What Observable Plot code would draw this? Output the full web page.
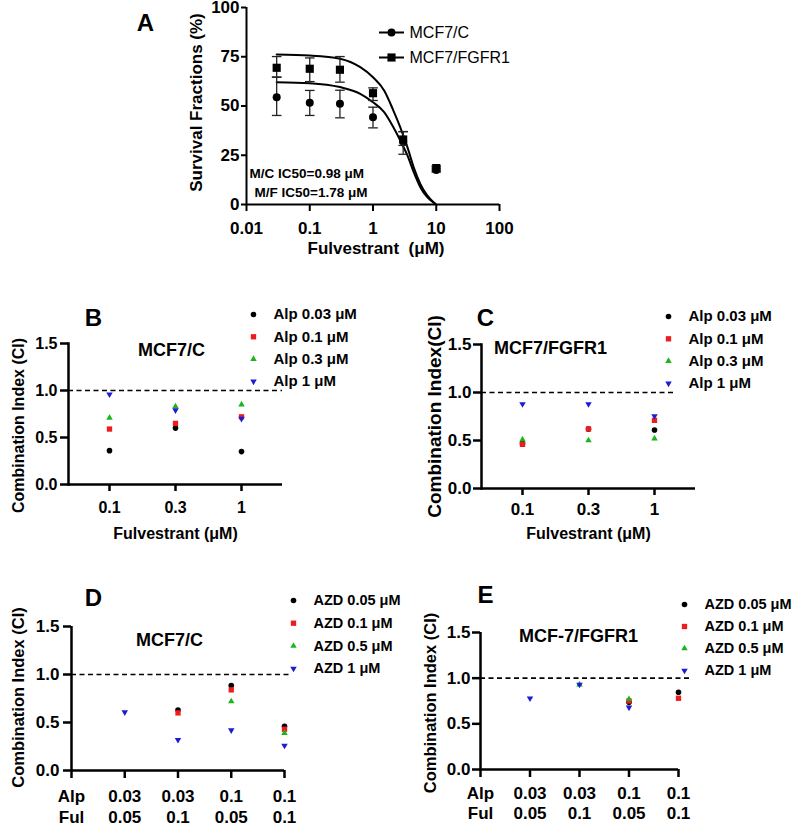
<!DOCTYPE html>
<html>
<head>
<meta charset="utf-8">
<script src="https://cdn.jsdelivr.net/npm/d3@7"></script>
<script src="https://cdn.jsdelivr.net/npm/@observablehq/plot@0.6"></script>
<style>
  body { margin: 0; background: #fff; }
  #figure { position: relative; width: 797px; height: 827px; background: #fff; overflow: hidden; }
</style>
</head>
<body>
<div id="figure"></div>
<script>
// ---------- Panel A: survival vs fulvestrant dose ----------
const fulDoses = [0.03, 0.1, 0.3, 1, 3, 10];
const mcfC_mean = [54.5, 51.6, 51.1, 44.3, 32.0, 17.5];
const mcfC_lo   = [45.2, 45.2, 44.0, 38.9, 25.5, 16.5];
const mcfC_hi   = [64.7, 57.9, 58.0, 49.4, 37.0, 18.5];
const mcfF_mean = [69.4, 68.9, 68.4, 56.5, 33.0, 18.5];
const mcfF_lo   = [64.6, 62.4, 62.1, 52.8, 30.0, 17.5];
const mcfF_hi   = [75.1, 74.4, 75.1, 59.2, 37.0, 19.5];

// fitted dose–response curves
const fitDoses = [0.03, 0.1, 0.3, 0.63, 1, 1.5, 2.1, 2.7, 3.5, 4.4, 5.6, 7.2, 9.7];
const fitC     = [62.1, 61.6, 59.6, 56.2, 51.9, 46.9, 39.2, 32.5, 24.9, 16.4, 8.8, 3.7, 0.3];
const fitF     = [76.1, 75.6, 74.0, 69.7, 64.6, 57.9, 47.7, 39.2, 29.1, 18.9, 10.5, 4.6, 0.3];

const doseTicksA = [0.01, 0.1, 1, 10, 100];
const survTicks = [0, 25, 50, 75, 100];
const cellLines = ["MCF7/C", "MCF7/FGFR1"];
const ic50Notes = ["M/C IC50=0.98 μM", "M/F IC50=1.78 μM"];

// ---------- Panels B, C: alpelisib + fulvestrant ----------
const fulDosesBC = ["0.1", "0.3", "1"];
const alpLegend = ["Alp 0.03 μM", "Alp 0.1 μM", "Alp 0.3 μM", "Alp 1 μM"];
const ciB_alp003 = [0.36, 0.60, 0.35];
const ciB_alp01  = [0.59, 0.65, 0.72];
const ciB_alp03  = [0.71, 0.83, 0.85];
const ciB_alp1   = [0.96, 0.79, 0.70];
const ciC_alp003 = [0.47, 0.62, 0.61];
const ciC_alp01  = [0.46, 0.62, 0.71];
const ciC_alp03  = [0.51, 0.50, 0.52];
const ciC_alp1   = [0.88, 0.88, 0.755];

// ---------- Panels D, E: AZD4547 + alpelisib/fulvestrant combos ----------
const comboAlp = ["0.03", "0.03", "0.1", "0.1"];
const comboFul = ["0.05", "0.1", "0.05", "0.1"];
const comboPos = [1, 2, 3, 4];
const azdLegend = ["AZD 0.05 μM", "AZD 0.1 μM", "AZD 0.5 μM", "AZD 1 μM"];
const ciD_azd005 = [null, 0.63, 0.885, 0.46];
const ciD_azd01  = [null, 0.60, 0.84, 0.43];
const ciD_azd05  = [null, null, 0.72, 0.39];
const ciD_azd1   = [0.607, 0.32, 0.42, 0.26];
const ciE_azd005 = [null, null, 0.735, 0.845];
const ciE_azd01  = [null, null, 0.75, 0.78];
const ciE_azd05  = [null, 0.93, 0.77, null];
const ciE_azd1   = [0.78, 0.93, 0.68, null];

const ciTicks = [0, 0.5, 1, 1.5];
const comboTickLabels = ["Alp\nFul", ...comboAlp.map((a, i) => a + "\n" + comboFul[i])];

// ---------- shared styling ----------
const FONT = "'Liberation Sans', Arial, Helvetica, sans-serif";
const seriesColors = ["#000000", "#ee1c1c", "#1fb41f", "#1c1cd2"];
const triangleDown = {
  draw(context, size) {
    const y = -Math.sqrt(size / (Math.sqrt(3) * 3));
    const x = Math.sqrt(3) * y;
    context.moveTo(0, -2 * y);
    context.lineTo(x, y);
    context.lineTo(-x, y);
    context.closePath();
  }
};
const seriesSymbols = ["circle", "square", "triangle", triangleDown];
const seriesRadius = [2.8, 3, 2.4, 2.4];
const capSymbol = {draw(context) { context.moveTo(-4.8, 0); context.lineTo(4.8, 0); }};
const legendLine = {draw(context) { context.moveTo(-12.5, 0); context.lineTo(12.5, 0); }};

function baseStyle() {
  return {fontFamily: FONT, fontSize: "16px", fontWeight: "bold", color: "#000", background: "transparent", overflow: "visible"};
}

// a single text label placed relative to the plot frame
function label(str, frameAnchor, dx, dy, fontSize, extra = {}) {
  return Plot.text([str], {frameAnchor, dx, dy, text: d => d, textAnchor: "middle", lineAnchor: "middle", fontSize, fontWeight: "bold", ...extra});
}

function place(chart, left, top) {
  chart.style.position = "absolute";
  chart.style.left = left + "px";
  chart.style.top = top + "px";
  document.getElementById("figure").append(chart);
}

// ---------- Panel A ----------
{
  const rowsC = fulDoses.map((d, i) => ({dose: d, mean: mcfC_mean[i], lo: mcfC_lo[i], hi: mcfC_hi[i]}));
  const rowsF = fulDoses.map((d, i) => ({dose: d, mean: mcfF_mean[i], lo: mcfF_lo[i], hi: mcfF_hi[i]}));
  const curveC = fitDoses.map((d, i) => ({dose: d, v: fitC[i]}));
  const curveF = fitDoses.map((d, i) => ({dose: d, v: fitF[i]}));
  const markerOpts = [{symbol: "circle", r: 4}, {symbol: "square", r: 4.6}];

  const marks = [
    Plot.ruleX([doseTicksA[0]], {strokeWidth: 2}),
    Plot.ruleY([0], {strokeWidth: 2}),
    Plot.axisY({ticks: survTicks, tickSize: 5, tickPadding: 2, strokeWidth: 2, fontSize: 17, label: null}),
    Plot.axisX({ticks: doseTicksA, tickFormat: d => String(d), tickSize: 7, tickPadding: 10, strokeWidth: 2, fontSize: 17, label: null}),
    Plot.line(curveF, {x: "dose", y: "v", curve: "monotone-x", strokeWidth: 2}),
    Plot.line(curveC, {x: "dose", y: "v", curve: "monotone-x", strokeWidth: 2})
  ];
  [rowsC, rowsF].forEach((rows, k) => {
    marks.push(
      Plot.ruleX(rows, {x: "dose", y1: "lo", y2: "hi", stroke: "#222", strokeWidth: 1.3}),
      Plot.dot(rows, {x: "dose", y: "lo", symbol: capSymbol, stroke: "#222", strokeWidth: 1.3}),
      Plot.dot(rows, {x: "dose", y: "hi", symbol: capSymbol, stroke: "#222", strokeWidth: 1.3}),
      Plot.dot(rows, {x: "dose", y: "mean", ...markerOpts[k], fill: "#000"})
    );
  });
  cellLines.forEach((name, k) => {
    marks.push(
      Plot.dot([name], {frameAnchor: "top-left", dx: 145, dy: 25 + 25 * k, symbol: legendLine, stroke: "#000", strokeWidth: 2}),
      Plot.dot([name], {frameAnchor: "top-left", dx: 145, dy: 25 + 25 * k, ...markerOpts[k], fill: "#000"}),
      label(name, "top-left", 163, 25 + 25 * k, 16, {textAnchor: "start", fontWeight: "normal"})
    );
  });
  ic50Notes.forEach((note, k) => {
    marks.push(label(note, "bottom-left", 3 + 5 * k, -31 + 19 * k, 13.5, {textAnchor: "start"}));
  });
  marks.push(
    label("A", "top-left", -101, 16, 24),
    label("Survival Fractions (%)", "left", -50, -3.5, 17, {rotate: -90}),
    label("Fulvestrant  (μM)", "bottom", 3, 44, 17)
  );

  place(Plot.plot({
    width: 420, height: 265,
    marginLeft: 126, marginRight: 41, marginTop: 7, marginBottom: 61,
    x: {type: "log", domain: [0.01, 100]},
    y: {domain: [0, 100]},
    style: baseStyle(),
    marks
  }), 120, 0);
}

// ---------- Combination index panels ----------
function ciPanel(cfg) {
  const marks = [
    Plot.ruleY([1], {strokeDasharray: "5,3.5", strokeWidth: 1.6, insetRight: cfg.dashInset}),
    cfg.yLine,
    Plot.ruleY([0], {strokeWidth: 2.5}),
    Plot.axisY({ticks: ciTicks, tickFormat: d3.format(".1f"), tickSize: 8, tickPadding: cfg.yPad, strokeWidth: 2.5, fontSize: cfg.tickFont, label: null}),
    Plot.axisX({strokeWidth: 2.5, fontSize: cfg.tickFont, label: null, ...cfg.xAxis})
  ];
  cfg.series.forEach((vals, i) => {
    const rows = cfg.positions.map((p, j) => ({pos: p, ci: vals[j]})).filter(d => d.ci != null);
    marks.push(Plot.dot(rows, {x: "pos", y: "ci", symbol: seriesSymbols[i], fill: seriesColors[i], r: seriesRadius[i]}));
  });
  cfg.legend.forEach((text, i) => {
    const dy = cfg.legendDy + i * cfg.legendStep;
    marks.push(
      Plot.dot([text], {frameAnchor: "top-left", dx: cfg.legendDx, dy, symbol: seriesSymbols[i], fill: seriesColors[i], r: seriesRadius[i]}),
      label(text, "top-left", cfg.legendDx + 20, dy, cfg.legendFont, {textAnchor: "start"})
    );
  });
  marks.push(
    label(cfg.letter, "top-left", cfg.letterPos[0], cfg.letterPos[1], 24),
    label(cfg.title, "top-left", cfg.titlePos[0], cfg.titlePos[1], 18),
    label(cfg.yLabel, "left", cfg.yLabelPos[0], cfg.yLabelPos[1], cfg.yLabelFont, {rotate: -90})
  );
  if (cfg.xLabel) marks.push(label(cfg.xLabel, "bottom", 0, cfg.xLabelDy, 16));
  place(Plot.plot({
    width: cfg.size[0], height: cfg.size[1],
    marginLeft: cfg.margins[0], marginRight: cfg.margins[1], marginTop: cfg.margins[2], marginBottom: cfg.margins[3],
    x: cfg.x,
    y: {domain: [0, 1.5]},
    style: baseStyle(),
    marks
  }), cfg.at[0], cfg.at[1]);
}

// B: MCF7/C, alpelisib + fulvestrant
ciPanel({
  at: [0, 295], size: [400, 250], margins: [68, 118, 48, 61],
  x: {type: "point", domain: fulDosesBC, padding: 0.61},
  xAxis: {tickSize: 7, tickPadding: 10},
  yLine: Plot.frame({anchor: "left", strokeWidth: 2.5}),
  yPad: 3, tickFont: 16,
  positions: fulDosesBC,
  series: [ciB_alp003, ciB_alp01, ciB_alp03, ciB_alp1],
  legend: alpLegend, legendDx: 185, legendDy: -29, legendStep: 22.3, legendFont: 15,
  letter: "B", letterPos: [25, -25],
  title: "MCF7/C", titlePos: [103, 7],
  yLabel: "Combination Index (CI)", yLabelPos: [-50, 11.5], yLabelFont: 16,
  xLabel: "Fulvestrant (μM)", xLabelDy: 49,
  dashInset: 0
});

// C: MCF7/FGFR1, alpelisib + fulvestrant
ciPanel({
  at: [400, 295], size: [397, 250], margins: [81, 102, 49, 57],
  x: {type: "point", domain: fulDosesBC, padding: 0.61},
  xAxis: {tickSize: 7, tickPadding: 7},
  yLine: Plot.frame({anchor: "left", strokeWidth: 2.5}),
  yPad: 2, tickFont: 17,
  positions: fulDosesBC,
  series: [ciC_alp003, ciC_alp01, ciC_alp03, ciC_alp1],
  legend: alpLegend, legendDx: 187, legendDy: -28, legendStep: 22.3, legendFont: 15,
  letter: "C", letterPos: [4, -26],
  title: "MCF7/FGFR1", titlePos: [69, 4],
  yLabel: "Combination Index(CI)", yLabelPos: [-46.5, 0], yLabelFont: 19,
  xLabel: "Fulvestrant (μM)", xLabelDy: 45,
  dashInset: 20
});

// D: MCF7/C, AZD4547 + combos
ciPanel({
  at: [0, 560], size: [400, 267], margins: [71, 116, 66, 57],
  x: {domain: [0, 4]},
  xAxis: {ticks: [0, 1, 2, 3, 4], tickFormat: i => comboTickLabels[i], tickSize: 8, tickPadding: 8, lineHeight: 1.25},
  yLine: Plot.ruleX([0], {strokeWidth: 2.5}),
  yPad: 4, tickFont: 17,
  positions: comboPos,
  series: [ciD_azd005, ciD_azd01, ciD_azd05, ciD_azd1],
  legend: azdLegend, legendDx: 222, legendDy: -26, legendStep: 22.7, legendFont: 14.5,
  letter: "D", letterPos: [22, -28],
  title: "MCF7/C", titlePos: [98, 14],
  yLabel: "Combination Index (CI)", yLabelPos: [-53, -1], yLabelFont: 16.5,
  xLabel: null,
  dashInset: -6
});

// E: MCF-7/FGFR1, AZD4547 + combos
ciPanel({
  at: [400, 560], size: [397, 267], margins: [80, 119, 72, 58],
  x: {domain: [0, 4]},
  xAxis: {ticks: [0, 1, 2, 3, 4], tickFormat: i => comboTickLabels[i], tickSize: 8, tickPadding: 7, lineHeight: 1.2},
  yLine: Plot.ruleX([0], {strokeWidth: 2.5}),
  yPad: 2, tickFont: 17,
  positions: comboPos,
  series: [ciE_azd005, ciE_azd01, ciE_azd05, ciE_azd1],
  legend: azdLegend, legendDx: 204, legendDy: -28, legendStep: 22, legendFont: 14.5,
  letter: "E", letterPos: [5, -37],
  title: "MCF-7/FGFR1", titlePos: [98, 4],
  yLabel: "Combination Index (CI)", yLabelPos: [-50, 2], yLabelFont: 16.5,
  xLabel: null,
  dashInset: -12
});
</script>
</body>
</html>
